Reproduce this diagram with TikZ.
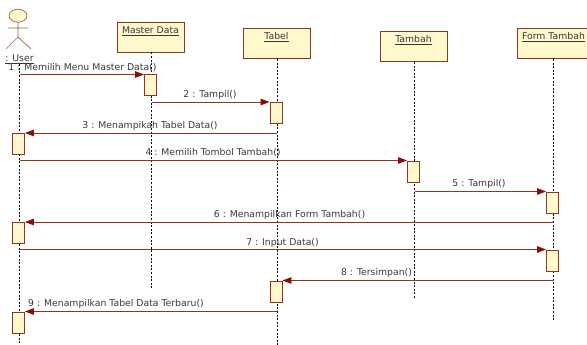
\documentclass[tikz,border=0pt]{standalone}
\usepackage{fontspec}
\setmainfont{DejaVu Sans}
\usepackage{xcolor}
\usetikzlibrary{arrows.meta,shapes.geometric}
\definecolor{umlfill}{RGB}{255,249,205}
\definecolor{umlline}{RGB}{140,55,30}
\definecolor{umlarrow}{RGB}{135,15,5}
\definecolor{umltext}{RGB}{55,55,55}
\tikzset{
  objbox/.style={draw=umlline,fill=umlfill,line width=0.9pt,minimum width=67pt,
                 inner xsep=0pt,inner ysep=0pt,text height=11.5pt,text depth=18.5pt,
                 text=umltext,font=\fontsize{9.3}{11}\selectfont},
  actbox/.style={draw=umlline,fill=umlfill,line width=0.9pt,minimum width=12pt,
                 minimum height=21pt,inner sep=0pt},
  lifeline/.style={draw=black,line width=0.7pt,dash pattern=on 2pt off 1.6pt},
  msgline/.style={draw=umlline,line width=0.8pt,
                  -{Triangle[length=9pt,width=6.5pt,color=umlarrow]}},
  msglabel/.style={text=umltext,inner sep=0pt,font=\fontsize{9.3}{11}\selectfont},
  actorline/.style={draw=umlline!80,line width=0.7pt},
}
\begin{document}
\begin{tikzpicture}[x=1pt,y=-1pt]
  \useasboundingbox (0,0) rectangle (587,345);
  \node[objbox] (master) at (150.5,37) {\underline{Master Data}};
  \node[objbox] (tabel) at (276.5,43.5) {\underline{Tabel}};
  \node[objbox] (tambah) at (413.5,46.5) {\underline{Tambah}};
  \node[objbox,minimum width=73pt] (form) at (553.5,43.5) {\underline{Form Tambah}};
  \draw[actorline,fill=umlfill] (18,15.7) ellipse (9 and 6.5);
  \draw[actorline] (18,22.2) -- (18,37) (8,28) -- (28,28) (6,49) -- (18,37) -- (31,49);
  \node[msglabel] (user) at (19.5,59.5) {\underline{: User}};
  \coordinate (userfoot) at (19.5,345);
  \coordinate (masterfoot) at (151.5,290);
  \coordinate (tabelfoot) at (277,345);
  \coordinate (tambahfoot) at (414.5,299);
  \coordinate (formfoot) at (553.5,320);
  \draw[lifeline] (userfoot |- user.south) -- (userfoot);
  \draw[lifeline] (masterfoot |- master.south) -- (masterfoot);
  \draw[lifeline] (tabelfoot |- tabel.south) -- (tabelfoot);
  \draw[lifeline] (tambahfoot |- tambah.south) -- (tambahfoot);
  \draw[lifeline] (formfoot |- form.south) -- (formfoot);
  \node[actbox,anchor=north] (a1) at (150.5,74.5) {};
  \node[actbox,anchor=north] (a2) at (276,102) {};
  \node[actbox,anchor=north] (a3) at (18.5,133) {};
  \node[actbox,anchor=north] (a4) at (413.5,160.5) {};
  \node[actbox,anchor=north] (a5) at (552.5,191.5) {};
  \node[actbox,anchor=north] (a6) at (18.5,222) {};
  \node[actbox,anchor=north] (a7) at (552.5,249.5) {};
  \node[actbox,anchor=north] (a8) at (276,280.5) {};
  \node[actbox,anchor=north] (a9) at (18.5,311.5) {};
  \draw[msgline] (userfoot |- a1.north) -- (a1.north west);
  \draw[msgline] (masterfoot |- a2.north) -- (a2.north west);
  \draw[msgline] (tabelfoot |- a3.north) -- (a3.north east);
  \draw[msgline] (userfoot |- a4.north) -- (a4.north west);
  \draw[msgline] (tambahfoot |- a5.north) -- (a5.north west);
  \draw[msgline] (formfoot |- a6.north) -- (a6.north east);
  \draw[msgline] (userfoot |- a7.north) -- (a7.north west);
  \draw[msgline] (formfoot |- a8.north) -- (a8.north east);
  \draw[msgline] (tabelfoot |- a9.north) -- (a9.north east);
  \node[msglabel] (m1) at (82.5,67.5) {1 : Memilih Menu Master Data()};
  \node[msglabel] (m2) at (210,95) {2 : Tampil()};
  \node[msglabel] (m3) at (150,126) {3 : Menampikah Tabel Data()};
  \node[msglabel] (m4) at (213,153) {4 : Memilih Tombol Tambah()};
  \node[msglabel] (m5) at (479,184) {5 : Tampil()};
  \node[msglabel] (m6) at (289.5,215) {6 : Menampilkan Form Tambah()};
  \node[msglabel] (m7) at (282.5,243) {7 : Input Data()};
  \node[msglabel] (m8) at (376.5,273) {8 : Tersimpan()};
  \node[msglabel] (m9) at (116,304) {9 : Menampilkan Tabel Data Terbaru()};
\end{tikzpicture}
\end{document}
